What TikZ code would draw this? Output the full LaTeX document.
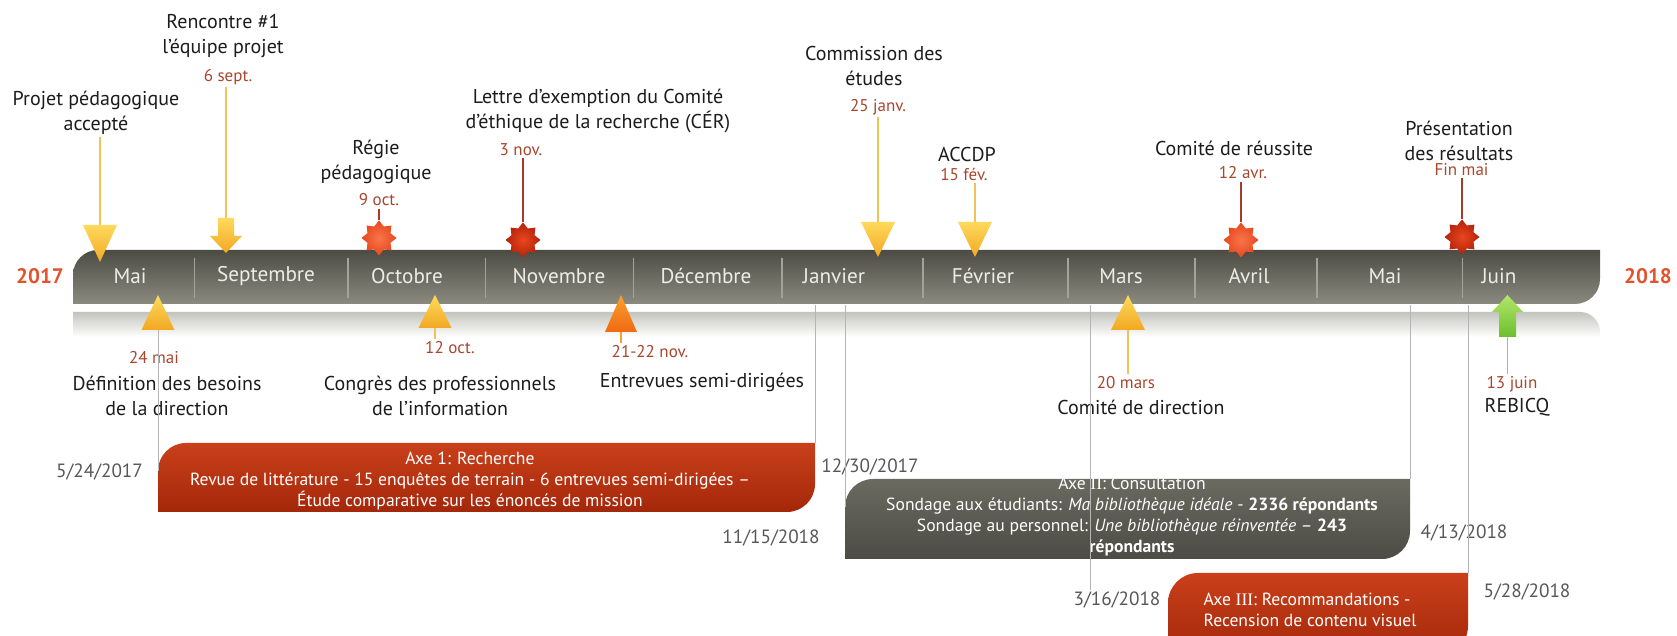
\documentclass[tikz,border=0pt]{standalone}
\usepackage{fontspec}
\setmainfont{PT Sans}
\newfontfamily\romfont{Liberation Serif}
\usetikzlibrary{shapes.geometric}

\definecolor{bandhi}{HTML}{4C4C44}
\definecolor{bandlo}{HTML}{8A8A7F}
\definecolor{reflect}{HTML}{C4C4BE}
\definecolor{septick}{HTML}{A3A398}
\definecolor{monthtxt}{HTML}{EDEDE6}
\definecolor{yeartxt}{HTML}{E2532B}
\definecolor{datetxt}{HTML}{A8452C}
\definecolor{stamptxt}{HTML}{575757}
\definecolor{eventtxt}{HTML}{1C1C1C}
\definecolor{goldhi}{HTML}{FFD95C}
\definecolor{goldlo}{HTML}{F2A823}
\definecolor{goldln}{HTML}{F2C25A}
\definecolor{orghi}{HTML}{FAA02E}
\definecolor{orglo}{HTML}{EE6A12}
\definecolor{burstlit}{HTML}{F7764A}
\definecolor{burstmid}{HTML}{E9471F}
\definecolor{burstdark}{HTML}{B4220A}
\definecolor{redln}{HTML}{A63A2C}
\definecolor{greenhi}{HTML}{B2E66A}
\definecolor{greenlo}{HTML}{6DBE2C}
\definecolor{greenln}{HTML}{9ACB62}
\definecolor{phaseln}{HTML}{B4B4B4}
\definecolor{redhi}{HTML}{C9401A}
\definecolor{redlo}{HTML}{A4270A}
\definecolor{greyhi}{HTML}{6A6A60}
\definecolor{greylo}{HTML}{4C4C45}

\tikzset{
  month/.style={text=monthtxt, font=\fontsize{10.6}{12}\selectfont},
  year/.style={text=yeartxt, font=\bfseries\fontsize{10.5}{12}\selectfont},
  event/.style={text=eventtxt, align=center, inner sep=1pt, font=\fontsize{10}{12.5}\selectfont},
  when/.style={text=datetxt, inner sep=1pt, font=\fontsize{8.5}{10}\selectfont},
  stamp/.style={text=stamptxt, font=\fontsize{9.6}{12}\selectfont},
  boxtext/.style={text=white, align=center, font=\fontsize{8.8}{10.4}\selectfont},
  goldline/.style={draw=goldln, line width=0.6pt},
  redline/.style={draw=redln, line width=0.6pt},
  phase/.style={draw=phaseln, line width=0.5pt},
  goldtri/.style={top color=goldhi, bottom color=goldlo},
  burst/.style={star, star points=8, star point ratio=1.4, minimum size=17.5pt, inner sep=0pt, draw=none},
  litburst/.style={burst, inner color=burstlit, outer color=burstmid},
  darkburst/.style={burst, inner color=burstmid, outer color=burstdark},
  redbox/.style={top color=redhi, bottom color=redlo},
  greybox/.style={top color=greyhi, bottom color=greylo}
}

\begin{document}
\begin{tikzpicture}[x=0.5pt, y=0.5pt]
      \useasboundingbox (0,0) rectangle (1677,636);
      \clip (0,0) rectangle (1677,636);
      % timeline band and its reflection
      \shade[top color=bandhi, bottom color=bandlo]
        (73,332) -- (73,361) arc[start angle=180, end angle=90, radius=25]
        -- (1600,386) -- (1600,357) arc[start angle=0, end angle=-90, radius=25] -- cycle;
      \shade[top color=reflect, bottom color=white]
        (73,299) -- (73,324) -- (1580,324) arc[start angle=90, end angle=0, radius=20]
        -- (1600,299) -- cycle;
      \coordinate (bandfoot) at (0,331);
      \begin{scope}[septick, line width=0.6pt]
        \draw (194.6,378) -- (194.6,338);
        \draw (348,378) -- (348,338);
        \draw (485.7,378) -- (485.7,338);
        \draw (633.6,378) -- (633.6,338);
        \draw (782,378) -- (782,338);
        \draw (923,378) -- (923,338);
        \draw (1068,378) -- (1068,338);
        \draw (1195,378) -- (1195,338);
        \draw (1317,378) -- (1317,338);
        \draw (1462.5,378) -- (1462.5,338);
      \end{scope}
      \draw
        (130,360) node[month] (m1){Mai}
        (266,360) node[month] (m2){Septembre}
        (407,360) node[month] (m3){Octobre}
        (559,360) node[month] (m4){Novembre}
        (706,360) node[month] (m5){Décembre}
        (834,360) node[month] (m6){Janvier}
        (983,360) node[month] (m7){Février}
        (1121,360) node[month] (m8){Mars}
        (1249,360) node[month] (m9){Avril}
        (1385,360) node[month] (m10){Mai}
        (1499,360) node[month] (m11){Juin};
      \node[year] (y0) at (40,360) {2017};
      \node[year] (y1) at (1648,360) {2018};

      % phases
      \shade[redbox] (158,124) -- (158,165) coordinate (a1nw)
        arc[start angle=180, end angle=90, radius=28]
        -- (815,193) coordinate (a1ne) -- (815,152)
        arc[start angle=0, end angle=-90, radius=28] -- cycle;
      \shade[greybox] (845,77) -- (845,129) coordinate (a2nw)
        arc[start angle=180, end angle=90, radius=28]
        -- (1410,157) coordinate (a2ne) -- (1410,105)
        arc[start angle=0, end angle=-90, radius=28] -- cycle;
      \shade[redbox] (1168,-20) -- (1168,33)
        arc[start angle=180, end angle=90, radius=30]
        -- (1468,63) coordinate (a3ne) -- (1468,10)
        arc[start angle=0, end angle=-90, radius=30] -- cycle;
      \node[boxtext] (a1) at (470,155) {Axe 1: Recherche\\Revue de littérature - 15 enquêtes de terrain - 6 entrevues semi-dirigées –\\Étude comparative sur les énoncés de mission};
      \node[boxtext] (a2) at (1132,119.5) {Axe {\romfont II}: Consultation\\Sondage aux étudiants: \textit{Ma bibliothèque idéale} - \textbf{2336 répondants}\\Sondage au personnel: \textit{Une bibliothèque réinventée} – \textbf{243}\\\textbf{répondants}};
      \node[boxtext, align=left] (a3) at (1310,26) {Axe {\romfont III}:\ Recommandations -\\Recension de contenu visuel};
      \node[stamp] (a1go) at (99.5,164) {5/24/2017};
      \node[stamp] (a1end) at (870,169) {12/30/2017};
      \node[stamp] (a2go) at (771,98) {11/15/2018};
      \node[stamp] (a2end) at (1464,103) {4/13/2018};
      \node[stamp] (a3go) at (1117,36) {3/16/2018};
      \node[stamp] (a3end) at (1527,44) {5/28/2018};
      \coordinate (a3in) at (1090,46);

      % events above
      \node[event] (proj) at (96,523.5) {Projet pédagogique\\accepté};
      \node[event] (renc) at (223,600) {Rencontre \#1\\l’équipe projet};
      \node[when] (rencd) at (228,559) {6 sept.};
      \node[event] (regie) at (376,474.5) {Régie\\pédagogique};
      \node[when] (regied) at (379,436) {9 oct.};
      \node[event] (cer) at (598,525) {Lettre d’exemption du Comité\\d’éthique de la recherche (CÉR)};
      \node[when] (cerd) at (521,486) {3 nov.};
      \node[event] (comm) at (874,570) {Commission des\\études};
      \node[when] (commd) at (878,529) {25 janv.};
      \node[event] (accdp) at (967,481) {ACCDP};
      \node[when] (accdpd) at (964,462) {15 fév.};
      \node[event] (reus) at (1234,488) {Comité de réussite};
      \node[when] (reusd) at (1243,463) {12 avr.};
      \node[event] (pres) at (1459,495) {Présentation\\des résultats};
      \node[when] (presd) at (1461.5,466) {Fin mai};

      % events below
      \node[when] (maid) at (154,278) {24 mai};
      \node[event] (mai) at (167,240.5) {Définition des besoins\\de la direction};
      \node[when] (octd) at (450,288) {12 oct.};
      \node[event] (oct) at (440,240) {Congrès des professionnels\\de l’information};
      \node[when] (novd) at (650,284) {21-22 nov.};
      \node[event] (nov) at (702,254) {Entrevues semi-dirigées};
      \node[when] (mard) at (1126,253) {20 mars};
      \node[event] (mar) at (1141,229) {Comité de direction};
      \node[when] (jund) at (1512,252) {13 juin};
      \node[event] (jun) at (1517,229) {REBICQ};

      % marker spots
      \coordinate (projm) at (100,411);
      \coordinate (rencm) at (226,418);
      \coordinate (commm) at (878,414);
      \coordinate (accdpm) at (975,414);
      \coordinate (maim) at (158,306);
      \coordinate (octm) at (435,308);
      \coordinate (novm) at (621,304);
      \coordinate (marm) at (1128,306);
      \coordinate (junm) at (1507.5,299);

      \begin{scope}[phase]
        \draw (maim) -- (maim |- a1nw);
        \draw (a1ne |- bandfoot) -- (a1ne);
        \draw (a2nw |- bandfoot) -- (a2nw);
        \draw (a3in |- bandfoot) -- (a3in);
        \draw (a2ne |- bandfoot) -- (a2ne);
        \draw (a3ne |- bandfoot) -- (a3ne);
      \end{scope}
      \begin{scope}[goldline]
        \draw (proj.south -| projm) -- (projm);
        \draw (rencd.south -| rencm) -- (rencm);
        \draw (commd.south -| commm) -- (commm);
        \draw (accdpd.south -| accdpm) -- (accdpm);
        \draw (octm) -- (octm |- octd.north);
        \draw (marm) -- (marm |- mard.north);
        \draw[draw=orghi] (novm) -- (novm |- novd.north);
      \end{scope}
      \draw[draw=greenln, line width=0.6pt] (junm) -- (junm |- jund.north);

      % markers
      \shade[goldtri] (projm) +(-17,0) -- +(17,0) -- +(0,-37) -- cycle;
      \shade[goldtri] (rencm) +(-8,0) -- +(8,0) -- +(8,-18) -- +(16,-18) -- +(0,-35) -- +(-16,-18) -- +(-8,-18) -- cycle;
      \shade[goldtri] (commm) +(-17,0) -- +(17,0) -- +(0,-35) -- cycle;
      \shade[goldtri] (accdpm) +(-17,0) -- +(17,0) -- +(0,-35) -- cycle;
      \shade[goldtri] (maim) +(-16.5,0) -- +(16.5,0) -- +(0,35) -- cycle;
      \shade[goldtri] (octm) +(-16.5,0) -- +(16.5,0) -- +(0,33) -- cycle;
      \shade[top color=orghi, bottom color=orglo] (novm) +(-16,0) -- +(16,0) -- +(0,37) -- cycle;
      \shade[goldtri] (marm) +(-17,0) -- +(17,0) -- +(0,35) -- cycle;
      \shade[top color=greenhi, bottom color=greenlo] (junm) +(-8.5,0) -- +(8.5,0) -- +(8.5,25) -- +(15.5,25) -- +(0,42) -- +(-15.5,25) -- +(-8.5,25) -- cycle;
      \node[litburst] (regiem) at (379,398) {};
      \node[darkburst] (cerm) at (523,396) {};
      \node[litburst] (reusm) at (1241,396) {};
      \node[darkburst] (presm) at (1462,399) {};
      \begin{scope}[redline]
        \draw (regied.south -| regiem) -- (regiem.north);
        \draw (cerd.south -| cerm) -- (cerm.north);
        \draw (reusd.south -| reusm) -- (reusm.north);
        \draw (presd.south -| presm) -- (presm.north);
      \end{scope}
    \end{tikzpicture}
\end{document}
